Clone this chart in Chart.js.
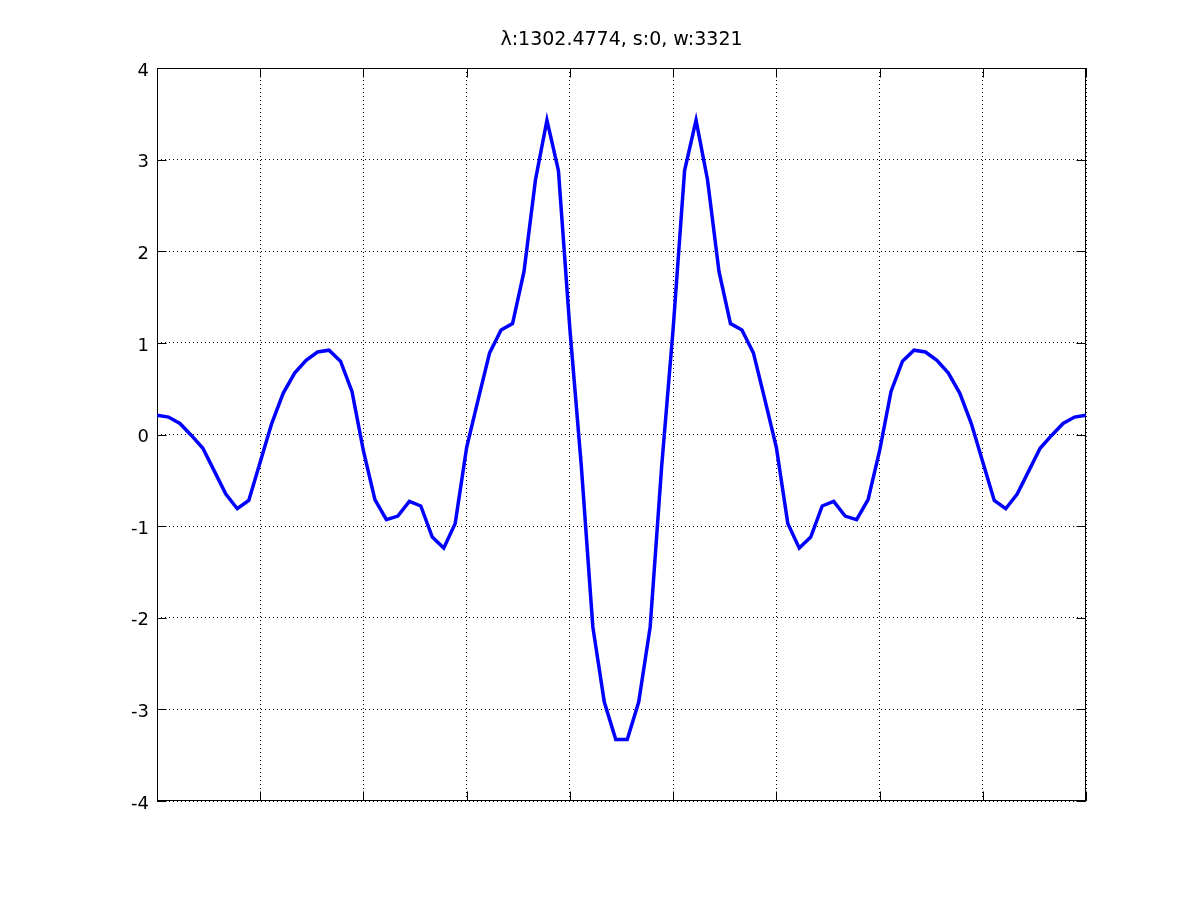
<!DOCTYPE html>
<html>
<head>
<meta charset="utf-8">
<script src="https://cdn.jsdelivr.net/npm/chart.js@4"></script>
<style>
  html, body { margin: 0; padding: 0; background: #fff; }
  #wrap { width: 1200px; height: 900px; }
</style>
</head>
<body>
<div id="wrap"><canvas id="waveChart"></canvas></div>
<script>
// titre du graphique
const titleText = 'λ:1302.4774, s:0, w:3321';

// valeurs (82 échantillons)
const waveValues = [
  0.21, 0.19, 0.12, -0.01, -0.15, -0.40, -0.65, -0.81, -0.72, -0.30,
  0.12, 0.45, 0.67, 0.81, 0.90, 0.92, 0.80, 0.47, -0.18, -0.71,
  -0.93, -0.89, -0.73, -0.78, -1.12, -1.24, -0.97, -0.14, 0.38, 0.89,
  1.14, 1.21, 1.78, 2.78, 3.43, 2.88, 1.15, -0.35, -2.10, -2.92,
  -3.33, -3.33, -2.92, -2.10, -0.35, 1.15, 2.88, 3.43, 2.78, 1.78,
  1.21, 1.14, 0.89, 0.38, -0.14, -0.97, -1.24, -1.12, -0.78, -0.73,
  -0.89, -0.93, -0.71, -0.18, 0.47, 0.80, 0.92, 0.90, 0.81, 0.67,
  0.45, 0.12, -0.30, -0.72, -0.81, -0.65, -0.40, -0.15, -0.01, 0.12,
  0.19, 0.21
];

// axes
const yRange = [-4, 4];
const yStep = 1;
const xGridStep = 9;

const fontFamily = '"DejaVu Sans", "Liberation Sans", sans-serif';
const tickLen = 9;

// boîte + petites graduations vers l'intérieur + titre
const matlabAxes = {
  id: 'matlabAxes',
  beforeDatasetsDraw(chart) {
    const { ctx, chartArea: a, scales: { x, y } } = chart;
    const L = Math.round(a.left) + 0.5, R = Math.round(a.right) - 0.5;
    const T = Math.round(a.top) + 0.5, B = Math.round(a.bottom) - 0.5;
    ctx.save();
    ctx.strokeStyle = '#000';
    ctx.lineWidth = 1;
    ctx.setLineDash([]);
    ctx.beginPath();
    y.ticks.forEach(t => {
      const py = Math.round(y.getPixelForValue(t.value)) + 0.5;
      ctx.moveTo(L, py); ctx.lineTo(L + tickLen, py);
      ctx.moveTo(R, py); ctx.lineTo(R - tickLen, py);
    });
    x.ticks.forEach(t => {
      const px = Math.round(x.getPixelForValue(t.value)) + 0.5;
      ctx.moveTo(px, B); ctx.lineTo(px, B - tickLen);
      ctx.moveTo(px, T); ctx.lineTo(px, T + tickLen);
    });
    ctx.stroke();
    ctx.strokeRect(L, T, R - L, B - T);
    ctx.restore();
  },
  afterDraw(chart) {
    const { ctx, chartArea: a } = chart;
    ctx.save();
    ctx.fillStyle = '#000';
    ctx.font = '19px ' + fontFamily;
    ctx.textAlign = 'center';
    ctx.textBaseline = 'middle';
    ctx.fillText(titleText, (a.left + a.right) / 2, 40);
    ctx.restore();
  }
};

const ctxWave = document.getElementById('waveChart').getContext('2d');
const waveChart = new Chart(ctxWave, {
    type: 'line',
    data: {
        datasets: [{
            data: waveValues.map((v, i) => ({ x: i, y: v })),
            borderColor: '#0000ff',
            borderWidth: 3.5,
            pointRadius: 0,
            tension: 0,
            fill: false
        }]
    },
    options: {
        responsive: true,
        maintainAspectRatio: false,
        animation: false,
        layout: { padding: { left: 100, right: 114, top: 68, bottom: 99 } },
        plugins: { legend: { display: false }, tooltip: { enabled: false }, title: { display: false } },
        scales: {
            x: {
                type: 'linear',
                min: 0,
                max: waveValues.length - 1,
                ticks: { display: false, stepSize: xGridStep },
                grid: { color: '#000', lineWidth: 1, drawTicks: false },
                border: { display: false, dash: [1, 3] },
                afterFit: s => { s.height = 0; }
            },
            y: {
                min: yRange[0],
                max: yRange[1],
                ticks: {
                    stepSize: yStep,
                    color: '#000',
                    padding: 8,
                    labelOffset: 3,
                    font: { family: fontFamily, size: 18 }
                },
                grid: { color: '#000', lineWidth: 1, drawTicks: false },
                border: { display: false, dash: [1, 3] },
                afterFit: s => { s.width = 57; }
            }
        }
    },
    plugins: [matlabAxes]
});
</script>
</body>
</html>
